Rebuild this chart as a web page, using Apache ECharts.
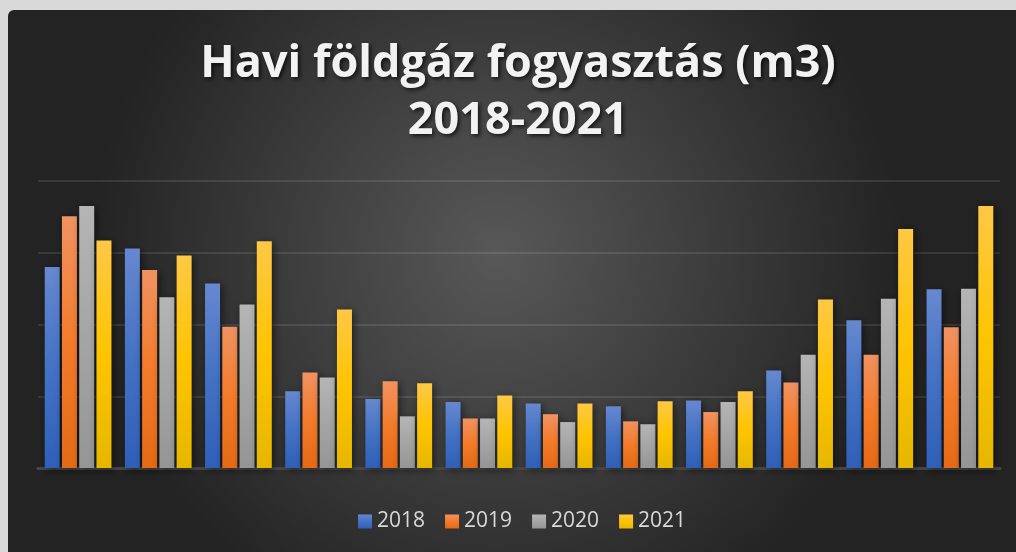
<!DOCTYPE html>
<html>
<head>
<meta charset="utf-8">
<script src="https://cdn.jsdelivr.net/npm/echarts@6/dist/echarts.min.js"></script>
<style>
  html, body {
    margin: 0;
    padding: 0;
    width: 1016px;
    height: 552px;
    overflow: hidden;
    background: #d9d9d9;
  }
  #chart {
    position: absolute;
    left: 8px;
    top: 10px;
    width: 1020px;
    height: 542px;
    border-top-left-radius: 6px;
    overflow: hidden;
  }
</style>
</head>
<body>
<div id="chart"></div>
<script>
  // havi adatok
  const months = ["jan", "feb", "már", "ápr", "máj", "jún", "júl", "aug", "szept", "okt", "nov", "dec"];
  const years = ["2018", "2019", "2020", "2021"];
  const v2018 = [280, 306, 257, 107, 96, 92, 90, 86, 94, 136, 206, 249];
  const v2019 = [351, 276, 197, 133, 121, 69, 75, 65, 78, 119, 158, 196];
  const v2020 = [365, 238, 228, 126, 72, 69, 64, 61, 92, 158, 236, 250];
  const v2021 = [317, 296, 316, 221, 118, 101, 90, 93, 107, 235, 333, 365];
  const yTicks = [0, 100, 200, 300, 400];

  // oszlop szinatmenetek
  const colors = [
    ["#6688d0", "#4472c4", "#2f5fb8"],
    ["#f19262", "#f47b2a", "#e46a16"],
    ["#b5b5b5", "#a5a5a5", "#959595"],
    ["#ffc845", "#ffc400", "#e6b700"],
  ];

  function grad(c) {
    return new echarts.graphic.LinearGradient(0, 0, 0, 1, [
      { offset: 0, color: c[0] },
      { offset: 0.5, color: c[1] },
      { offset: 1, color: c[2] },
    ]);
  }

  let chart = echarts.init(document.getElementById("chart"));

  let series = [v2018, v2019, v2020, v2021].map(function (vals, i) {
    return {
      name: years[i],
      type: "bar",
      data: vals,
      barWidth: 15,
      barGap: "15%",
      itemStyle: {
        color: grad(colors[i]),
        shadowColor: "rgba(0,0,0,0.55)",
        shadowBlur: 8,
        shadowOffsetX: 2,
        shadowOffsetY: 2,
      },
    };
  });

  chart.setOption({
    animation: false,
    backgroundColor: {
      type: "radial",
      x: 0.48,
      y: 0.45,
      r: 0.75,
      colorStops: [
        { offset: 0, color: "#585858" },
        { offset: 1, color: "#232323" },
      ],
    },
    title: {
      text: "Havi földgáz fogyasztás (m3)\n2018-2021",
      left: "center",
      top: 21,
      textStyle: {
        fontFamily: "Open Sans",
        fontWeight: "bold",
        fontSize: 45,
        lineHeight: 57,
        color: "#f2f2f2",
        textShadowColor: "rgba(0,0,0,0.7)",
        textShadowBlur: 4,
        textShadowOffsetX: 2,
        textShadowOffsetY: 2,
      },
    },
    legend: {
      data: years,
      bottom: 15,
      left: 345,
      itemWidth: 14,
      itemHeight: 14,
      itemGap: 20,
      icon: "rect",
      textStyle: {
        color: "#d9d9d9",
        fontFamily: "Open Sans",
        fontSize: 21,
      },
    },
    grid: {
      left: 30,
      right: 28,
      top: 171,
      bottom: 84,
      containLabel: false,
    },
    xAxis: {
      type: "category",
      data: months,
      axisLine: { lineStyle: { color: "#484848", width: 3 } },
      axisTick: { show: false },
      axisLabel: { show: false },
    },
    yAxis: {
      type: "value",
      min: yTicks[0],
      max: yTicks[yTicks.length - 1],
      interval: 100,
      axisLabel: { show: false },
      axisLine: { show: false },
      axisTick: { show: false },
      splitLine: { lineStyle: { color: "rgba(255,255,255,0.1)", width: 2 } },
    },
    series: series,
  });
</script>
</body>
</html>
